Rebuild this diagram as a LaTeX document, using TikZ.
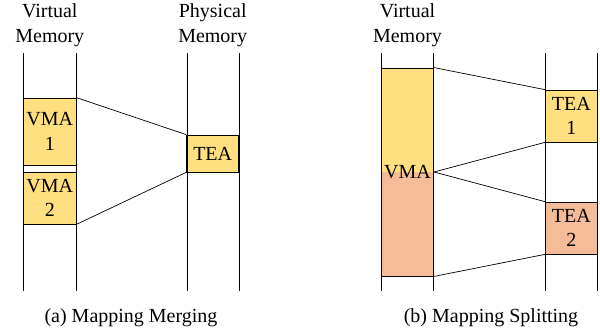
\documentclass[tikz,border=0pt]{standalone}
\usepackage{fontspec}
\setmainfont{Liberation Serif}
\usepackage{tikz}
\usetikzlibrary{positioning}

\definecolor{vmayellow}{RGB}{255,223,128}
\definecolor{teasalmon}{RGB}{244,188,152}

\begin{document}
\begin{tikzpicture}[x=1pt,y=-1pt,
    every node/.style={font=\rmfamily\fontsize{20}{24.5}\selectfont},
    col/.style={line width=1pt},
    region/.style={draw,line width=0.8pt,rectangle,inner sep=0pt,minimum width=52.3pt,align=center},
    map/.style={line width=0.7pt}]
  \useasboundingbox (0,0) rectangle (600,335);

  % (a) merging
  \node[align=center] (vlabA) at (49.8,25) {Virtual\\Memory};
  \node[align=center] (plabA) at (212.7,25) {Physical\\Memory};
  \node[region,fill=vmayellow,minimum height=67pt] (vma1) at (49.8,131.5) {VMA\\1};
  \node[region,fill=vmayellow,minimum height=52pt] (vma2) at (49.8,198) {VMA\\2};
  \node[region,fill=vmayellow,minimum height=37pt] (tea) at (212.7,153.5) {TEA};
  \draw[col] (23.7,53) -- (23.7,291) (76,53) -- (76,291);
  \draw[col] (187,53) -- (187,291) (239.3,53) -- (239.3,291);
  \node (capA) at (131,318) {(a) Mapping Merging};

  % (b) splitting
  \node[align=center] (vlabB) at (407.5,25) {Virtual\\Memory};
  \node[region,minimum height=208pt,path picture={
      \fill[vmayellow] (path picture bounding box.north west) rectangle (path picture bounding box.east);
      \fill[teasalmon] (path picture bounding box.west) rectangle (path picture bounding box.south east);
    }] (vma) at (407.5,172) {VMA};
  \node[region,fill=vmayellow,minimum height=52pt] (tea1) at (571.3,116) {TEA\\1};
  \node[region,fill=teasalmon,minimum height=52pt] (tea2) at (571.3,228) {TEA\\2};
  \draw[col] (381.3,53) -- (381.3,291) (433.7,53) -- (433.7,291);
  \draw[col] (545,53) -- (545,291) (597.5,53) -- (597.5,291);
  \node (capB) at (491,318) {(b) Mapping Splitting};

  % mappings
  \draw[map] (vma1.north east) -- (tea.north west);
  \draw[map] (vma2.south east) -- (tea.south west);
  \draw[map] (vma.north east) -- (tea1.north west);
  \draw[map] (vma.east) -- (tea1.south west);
  \draw[map] (vma.east) -- (tea2.north west);
  \draw[map] (vma.south east) -- (tea2.south west);
\end{tikzpicture}
\end{document}
